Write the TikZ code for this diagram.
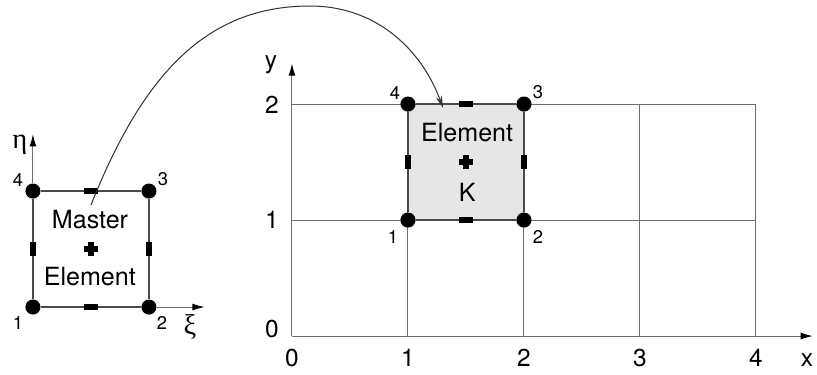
\documentclass[tikz,border=0pt]{standalone}
\usepackage{fontspec}
\setmainfont{TeX Gyre Heros}
\newfontfamily\greekfont{Liberation Serif}
\usepackage{tikz}
\usetikzlibrary{positioning,arrows.meta,calc}
\definecolor{meshgray}{HTML}{6E6E6E}
\definecolor{edgegray}{HTML}{4A4A4A}
\definecolor{elemfill}{HTML}{E6E6E6}
\tikzset{
  cornernode/.style={circle, fill=black, inner sep=0pt, minimum size=0.26cm},
  midnodeh/.style={rectangle, fill=black, inner sep=0pt, minimum width=0.24cm, minimum height=0.1cm},
  midnodev/.style={rectangle, fill=black, inner sep=0pt, minimum width=0.1cm, minimum height=0.24cm},
  meshline/.style={meshgray, line width=0.5pt},
  edgeline/.style={edgegray, line width=0.7pt},
  axisarrow/.style={meshgray, line width=0.5pt, -{Latex[length=6pt,width=3.4pt,black]}},
  numlabel/.style={font=\fontsize{9}{10}\selectfont, inner sep=0pt},
  ticklabel/.style={font=\fontsize{12}{14}\selectfont, inner sep=0pt},
  textlabel/.style={font=\fontsize{12.3}{14}\selectfont, inner sep=0pt},
}

\begin{document}
\begin{tikzpicture}[x=2cm, y=2cm]
  % Master element mapped onto element K of the mesh
  \useasboundingbox (-2.517,-0.328) rectangle (4.526,2.897);

  % mesh
  \fill[elemfill] (1,1) rectangle (2,2);
  \foreach \j in {1,2} \draw[meshline] (0,\j) -- (4,\j);
  \foreach \i in {1,...,4} \draw[meshline] (\i,0) -- (\i,2);
  \coordinate (o) at (0,0);
  \coordinate (xtip) at (4.49,0);
  \coordinate (ytip) at (0,2.35);
  \draw[axisarrow] (o) -- (xtip);
  \draw[axisarrow] (o) -- (ytip);
  \foreach \i in {0,...,4} \node[ticklabel, anchor=base] (xt\i) at (\i,-0.26) {\i};
  \node[ticklabel] (yt0) at (-0.172,0.06) {0};
  \node[ticklabel] (yt1) at (-0.172,1.0) {1};
  \node[ticklabel] (yt2) at (-0.172,1.99) {2};
  \node[ticklabel, anchor=base] (xlab) at (4.44,-0.26) {x};
  \node[ticklabel] (ylab) at (-0.181,2.336) {y};

  % element K
  \node[cornernode] (k1) at (1,1) {};
  \node[cornernode] (k2) at (2,1) {};
  \node[cornernode] (k3) at (2,2) {};
  \node[cornernode] (k4) at (1,2) {};
  \draw[edgeline] (k1) -- (k2) -- (k3) -- (k4) -- (k1);
  \node[midnodeh] (k12) at (1.5,1) {};
  \node[midnodev] (k23) at (2,1.5) {};
  \node[midnodeh] (k34) at (1.5,2) {};
  \node[midnodev] (k41) at (1,1.5) {};
  \coordinate (kc) at (1.5,1.5);
  \draw[line width=3pt] ([xshift=-0.125cm]kc) -- ([xshift=0.125cm]kc);
  \draw[line width=3pt] ([yshift=-0.125cm]kc) -- ([yshift=0.125cm]kc);
  \node[textlabel] (ktext) at (1.51,1.75) {Element};
  \node[textlabel] (kname) at (1.51,1.241) {K};
  \node[numlabel] at ($(k1)+(-0.129,-0.147)$) {1};
  \node[numlabel] at ($(k2)+(0.121,-0.147)$) {2};
  \node[numlabel] at ($(k3)+(0.121,0.103)$) {3};
  \node[numlabel] at ($(k4)+(-0.112,0.095)$) {4};

  % master element
  \begin{scope}[shift={(-2.233,0.25)}]
    \node[cornernode] (m1) at (0,0) {};
    \node[cornernode] (m2) at (1,0) {};
    \node[cornernode] (m3) at (1,1) {};
    \node[cornernode] (m4) at (0,1) {};
    \coordinate (xitip) at (1.48,0);
    \coordinate (etatip) at (0,1.49);
    \draw[axisarrow] (m2) -- (xitip);
    \draw[axisarrow] (m4) -- (etatip);
    \draw[edgeline] (m1) -- (m2) -- (m3) -- (m4) -- (m1);
    \node[midnodeh] (m12) at (0.5,0) {};
    \node[midnodev] (m23) at (1,0.5) {};
    \node[midnodeh] (m34) at (0.5,1) {};
    \node[midnodev] (m41) at (0,0.5) {};
    \coordinate (mc) at (0.5,0.5);
    \draw[line width=3pt] ([xshift=-0.125cm]mc) -- ([xshift=0.125cm]mc);
    \draw[line width=3pt] ([yshift=-0.125cm]mc) -- ([yshift=0.125cm]mc);
    \node[textlabel] (mtext1) at (0.492,0.75) {Master};
    \node[textlabel] (mtext2) at (0.49,0.26) {Element};
    \node[numlabel] at ($(m1)+(-0.129,-0.138)$) {1};
    \node[numlabel] at ($(m2)+(0.112,-0.138)$) {2};
    \node[numlabel] at ($(m3)+(0.121,0.103)$) {3};
    \node[numlabel] at ($(m4)+(-0.129,0.095)$) {4};
    \node[font=\fontsize{14}{16}\selectfont, inner sep=0pt] (xilab) at (1.354,-0.172) {\greekfont ξ};
    \node[font=\fontsize{14}{16}\selectfont, inner sep=0pt] (etalab) at (-0.112,1.397) {\greekfont η};
    \coordinate (mapfrom) at (0.5,0.879);
  \end{scope}

  % mapping
  \coordinate (mapto) at (1.302,1.966);
  \draw[black!80, line width=0.5pt, -{Stealth[length=6pt,width=3pt]}]
    (mapfrom) .. controls (-1.289,2.245) and (-0.745,2.845) .. (0.155,2.845)
              .. controls (0.755,2.845) and (1.132,2.436) .. (mapto);
\end{tikzpicture}
\end{document}
